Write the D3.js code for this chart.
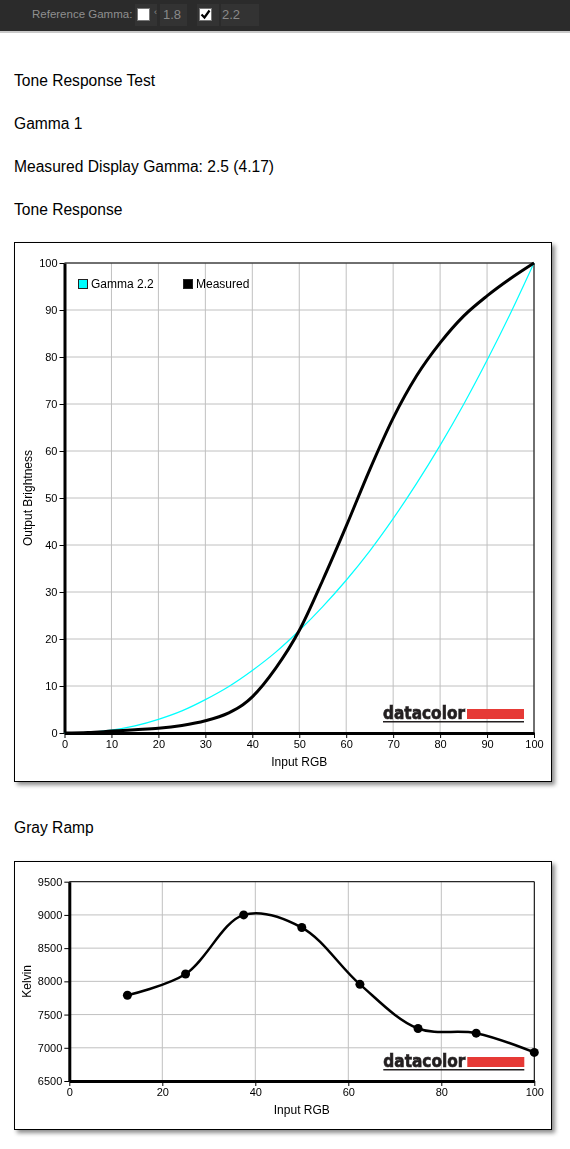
<!DOCTYPE html>
<html lang="en">
<head>
<meta charset="UTF-8">
<title>Tone Response Test</title>
<style>
  body {
    margin: 0;
    width: 570px;
    height: 1149px;
    position: relative;
    overflow: hidden;
    background: #fff;
    font-family: "Liberation Sans", Arial, sans-serif;
  }
  .topbar {
    position: absolute; left: 0; top: 0;
    width: 570px; height: 31px;
    background: #2b2b2b;
    border-bottom: 2px solid #c9c9c9;
  }
  .topbar .lbl { position: absolute; top: 8px; font-size: 11.5px; color: #8f8f8f; }
  .topbar .val { position: absolute; top: 7px; font-size: 13px; color: #8a8a8a; }
  .cell { position: absolute; top: 4px; height: 22px; background: #333; }
  .cb { position: absolute; top: 8px; width: 11px; height: 11px; background: #fff; border: 1px solid #777; }
  .cb svg { position: absolute; left: 0; top: 0; }
  h3 {
    position: absolute; left: 14px; margin: 0;
    font-size: 15.6px; font-weight: normal; line-height: 18px; color: #000;
  }
  .frame { position: absolute; left: 14px; filter: drop-shadow(3px 3px 2px rgba(0,0,0,0.45)); }
  .axis text { font-family: "Liberation Sans", Arial, sans-serif; font-size: 11px; fill: #000; }
  .lab { font-family: "Liberation Sans", Arial, sans-serif; font-size: 12px; fill: #000; }
</style>
</head>
<body>
<div class="topbar">
  <span class="lbl" style="left:32px">Reference Gamma:</span>
  <div class="cell" style="left:135px;width:22px"></div>
  <div class="cb" style="left:137px"></div>
  <span class="lbl" style="left:154px;top:7px;font-size:9px">&lsaquo;</span>
  <div class="cell" style="left:160px;width:27px"></div>
  <span class="val" style="left:163px">1.8</span>
  <div class="cell" style="left:197px;width:22px"></div>
  <div class="cb" style="left:199px">
    <svg width="11" height="11"><path d="M1.5 5.5 L4.5 8.5 L9.5 1.5" stroke="#000" stroke-width="2.2" fill="none"/></svg>
  </div>
  <div class="cell" style="left:221px;width:38px"></div>
  <span class="val" style="left:222px">2.2</span>
</div>

<h3 style="top:72px">Tone Response Test</h3>
<h3 style="top:115px">Gamma 1</h3>
<h3 style="top:158px">Measured Display Gamma: 2.5 (4.17)</h3>
<h3 style="top:201px">Tone Response</h3>
<h3 style="top:819px">Gray Ramp</h3>

<div id="tone" class="frame" style="top:242px"></div>
<div id="ramp" class="frame" style="top:861px"></div>

<script src="https://cdn.jsdelivr.net/npm/d3@7"></script>
<script>
  // Tone response: reference gamma 2.2 curve
  const gammaX = [0, 5, 10, 15, 20, 25, 30, 35, 40, 45, 50, 55, 60, 65, 70, 75, 80, 85, 90, 95, 100];
  const gammaY = [0, 0.15, 0.6, 1.5, 2.9, 4.7, 7.1, 9.9, 13.3, 17.2, 21.8, 26.9, 32.5, 38.7, 45.6, 53.1, 61.2, 69.9, 79.3, 89.3, 100];

  // Tone response: measured curve
  const measuredX = [0, 5, 10, 15, 20, 25, 30, 35, 38, 40, 45, 50, 55, 60, 65, 70, 75, 80, 85, 90, 95, 100];
  const measuredY = [0, 0.1, 0.4, 0.7, 1.0, 1.6, 2.6, 4.3, 6.0, 7.7, 13.8, 21.8, 32.5, 44, 56, 67, 76, 83, 88.7, 93.0, 96.7, 100];

  const toneXTicks = [0, 10, 20, 30, 40, 50, 60, 70, 80, 90, 100];
  const toneYTicks = [0, 10, 20, 30, 40, 50, 60, 70, 80, 90, 100];

  // Gray ramp: colour temperature per input level
  const rampX = [12.5, 25, 37.5, 50, 62.5, 75, 87.5, 100];
  const rampKelvin = [7790, 8110, 9000, 8810, 7955, 7290, 7220, 6930];
  const rampXTicks = [0, 20, 40, 60, 80, 100];
  const rampYTicks = [6500, 7000, 7500, 8000, 8500, 9000, 9500];

  const legendNames = ['Gamma 2.2', 'Measured'];
  const legendColors = ['#00ffff', '#000000'];

  function chart(id, w, h, m, xDom, yDom, xTicks, yTicks, xLabel, yLabel) {
    const svg = d3.select('#' + id).append('svg')
      .attr('width', w).attr('height', h)
      .style('display', 'block');
    svg.append('rect')
      .attr('x', 0.5).attr('y', 0.5)
      .attr('width', w - 1).attr('height', h - 1)
      .attr('fill', '#fff').attr('stroke', '#000');

    const x = d3.scaleLinear().domain(xDom).range([m.left, w - m.right]);
    const y = d3.scaleLinear().domain(yDom).range([h - m.bottom, m.top]);

    // grid
    const g = svg.append('g');
    g.selectAll('.gx').data(xTicks).enter().append('line')
      .attr('x1', d => x(d)).attr('x2', d => x(d))
      .attr('y1', y.range()[1]).attr('y2', y.range()[0])
      .attr('stroke', '#c0c0c0');
    g.selectAll('.gy').data(yTicks).enter().append('line')
      .attr('x1', x.range()[0]).attr('x2', x.range()[1])
      .attr('y1', d => y(d)).attr('y2', d => y(d))
      .attr('stroke', '#c0c0c0');

    // thin top/right border of the plot
    svg.append('path')
      .attr('d', `M${x.range()[0]},${y.range()[1]}H${x.range()[1]}V${y.range()[0]}`)
      .attr('fill', 'none').attr('stroke', '#000');

    const ax = svg.append('g').attr('class', 'axis')
      .attr('transform', `translate(0,${y.range()[0]})`)
      .call(d3.axisBottom(x).tickValues(xTicks).tickFormat(d3.format('d'))
        .tickSize(5).tickSizeOuter(0).tickPadding(2));
    const ay = svg.append('g').attr('class', 'axis')
      .attr('transform', `translate(${x.range()[0]},0)`)
      .call(d3.axisLeft(y).tickValues(yTicks).tickFormat(d3.format('d'))
        .tickSize(5).tickSizeOuter(0).tickPadding(2));
    [ax, ay].forEach(a => {
      a.select('.domain').attr('stroke-width', 3).attr('stroke', '#000');
      a.selectAll('.tick line').attr('stroke', '#000');
    });

    svg.append('text').attr('class', 'lab')
      .attr('x', (x.range()[0] + x.range()[1]) / 2).attr('y', h - m.bottom + 33)
      .attr('text-anchor', 'middle').text(xLabel);
    svg.append('text').attr('class', 'lab')
      .attr('transform', `translate(${m.yLab},${(y.range()[0] + y.range()[1]) / 2}) rotate(-90)`)
      .attr('text-anchor', 'middle').text(yLabel);

    // datacolor mark, bottom right of the plot
    const lx = x.range()[1] - 10, ly = y.range()[0] - 11;
    const logo = svg.append('g');
    logo.append('text')
      .attr('x', lx - 141).attr('y', ly - 3)
      .attr('textLength', 82).attr('lengthAdjust', 'spacingAndGlyphs')
      .attr('font-family', '"DejaVu Sans", sans-serif').attr('font-weight', 'bold')
      .attr('font-size', 18.5).attr('fill', '#231f20')
      .attr('stroke', '#231f20').attr('stroke-width', 0.7).text('datacolor');
    logo.append('rect').attr('x', lx - 57).attr('y', ly - 13)
      .attr('width', 57).attr('height', 10).attr('fill', '#e63a36');
    logo.append('rect').attr('x', lx - 141).attr('y', ly - 1)
      .attr('width', 141).attr('height', 1.5).attr('fill', '#231f20');

    return { svg, x, y };
  }

  // ---- Tone Response ----
  const tone = chart('tone', 538, 540,
    { left: 50.5, right: 18, top: 21, bottom: 49, yLab: 18 },
    [0, 100], [0, 100], toneXTicks, toneYTicks, 'Input RGB', 'Output Brightness');

  const toneLine = (xs) => d3.line()
    .x((d, i) => tone.x(xs[i])).y(d => tone.y(d))
    .curve(d3.curveMonotoneX);

  tone.svg.append('path').datum(gammaY)
    .attr('d', toneLine(gammaX))
    .attr('fill', 'none').attr('stroke', '#00ffff').attr('stroke-width', 1.2);
  tone.svg.append('path').datum(measuredY)
    .attr('d', toneLine(measuredX))
    .attr('fill', 'none').attr('stroke', '#000').attr('stroke-width', 3);

  const leg = tone.svg.append('g');
  const legX = [64, 169];
  legendNames.forEach((n, i) => {
    leg.append('rect').attr('x', legX[i] + 0.5).attr('y', 37.5)
      .attr('width', 9).attr('height', 9)
      .attr('fill', legendColors[i]).attr('stroke', '#222');
    leg.append('text').attr('class', 'lab')
      .attr('x', legX[i] + 13).attr('y', 46).text(n);
  });

  // ---- Gray Ramp ----
  const ramp = chart('ramp', 538, 269,
    { left: 55.3, right: 17.7, top: 20.7, bottom: 49, yLab: 17 },
    [0, 100], [6500, 9500], rampXTicks, rampYTicks, 'Input RGB', 'Kelvin');

  ramp.svg.append('path').datum(rampKelvin)
    .attr('d', d3.line()
      .x((d, i) => ramp.x(rampX[i])).y(d => ramp.y(d))
      .curve(d3.curveCatmullRom.alpha(0.5)))
    .attr('fill', 'none').attr('stroke', '#000').attr('stroke-width', 2.5);
  ramp.svg.selectAll('.pt').data(rampKelvin).enter().append('circle')
    .attr('cx', (d, i) => ramp.x(rampX[i])).attr('cy', d => ramp.y(d))
    .attr('r', 4.5).attr('fill', '#000');
</script>
</body>
</html>
